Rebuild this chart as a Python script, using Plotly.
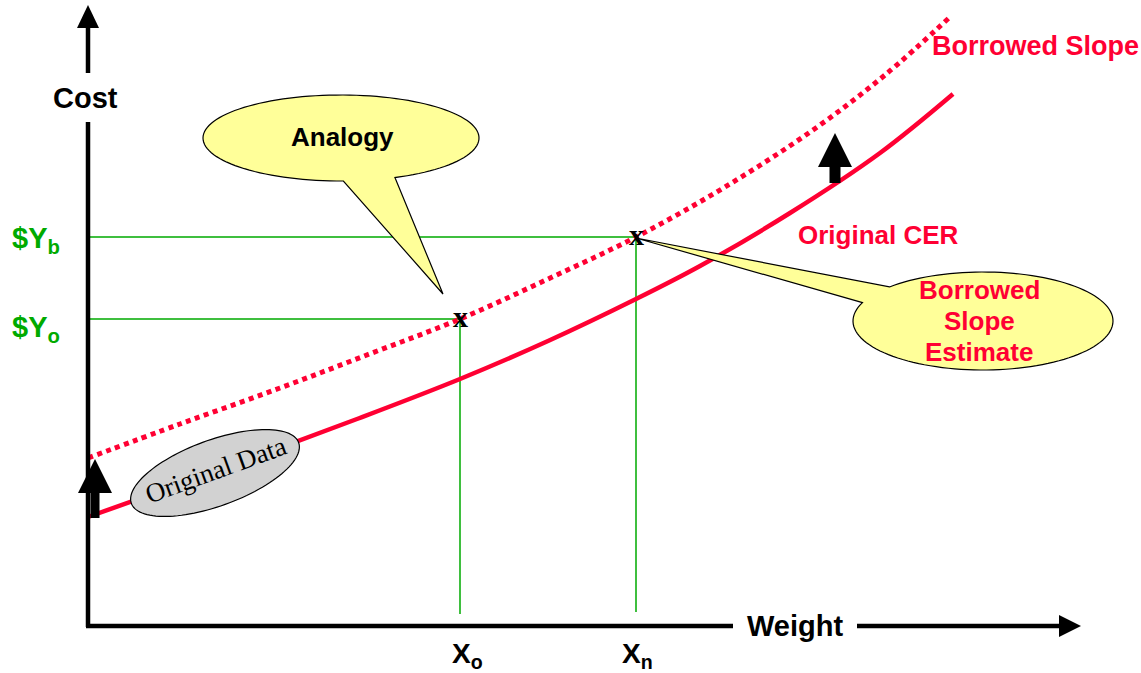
import numpy as np
import plotly.graph_objects as go

# ---------------- data (weight, cost), origin at the axes corner ----------------
cer_weight = [0, 112, 269, 372, 460, 548, 612, 702, 792, 865]
cer_cost = [110, 150, 208, 248, 286, 328, 361, 414, 474, 533]

borrowed_weight = [0, 92, 192, 284, 372, 460, 548, 637, 725, 797, 863]
borrowed_cost = [169, 203, 239, 274, 308, 348, 390, 440, 497, 552, 611]

x_o, y_o = 372, 308      # analogy point
x_n, y_b = 548, 390      # borrowed slope estimate
guide_floor = 13

RED = "#FF0033"
GREEN = "#00AA00"
YELLOW = "#FFFF99"
GREY = "#D2D2D2"
SANS = "Liberation Sans, Arial, sans-serif"
SERIF = "Liberation Serif, Times New Roman, serif"

# page pixel -> chart units (for decoration placement only)
OX, OY = 88, 627


def P(px, py):
    return px - OX, OY - py


def path_from(points):
    s = "M " + " L ".join(f"{x:.2f},{y:.2f}" for x, y in points)
    return s + " Z"


def ellipse_pts(cx, cy, rx, ry, t0, t1, rot=0.0, n=120):
    ts = np.radians(np.linspace(t0, t1, n))
    r = np.radians(rot)
    pts = []
    for t in ts:
        ex, ey = rx * np.cos(t), ry * np.sin(t)
        px = cx + ex * np.cos(r) + ey * np.sin(r)
        py = cy - ex * np.sin(r) + ey * np.cos(r)
        pts.append(P(px, py))
    return pts


def callout(cx, cy, rx, ry, gap_a, gap_b, tip):
    pts = ellipse_pts(cx, cy, rx, ry, gap_b, gap_a + 360)
    pts.append(P(*tip))
    return path_from(pts)


fig = go.Figure()

# green guide lines
fig.add_trace(go.Scatter(x=[0, x_n, x_n], y=[y_b, y_b, guide_floor + 2], mode="lines",
                         line=dict(color=GREEN, width=1.5), hoverinfo="skip"))
fig.add_trace(go.Scatter(x=[0, x_o, x_o], y=[y_o, y_o, guide_floor], mode="lines",
                         line=dict(color=GREEN, width=1.5), hoverinfo="skip"))

# curves
fig.add_trace(go.Scatter(x=cer_weight, y=cer_cost, mode="lines",
                         line=dict(color=RED, width=4.5, shape="spline", smoothing=1.0),
                         hoverinfo="skip"))
fig.add_trace(go.Scatter(x=borrowed_weight, y=borrowed_cost, mode="lines",
                         line=dict(color=RED, width=5, dash="5px,4.5px", shape="spline",
                                   smoothing=1.0),
                         hoverinfo="skip"))

shapes = []
# axes
for a, b in [((88, 627), (88, 122)), ((88, 73), (88, 26)),
             ((86, 626), (733, 626)), ((857, 626), (1062, 626))]:
    x0, y0 = P(*a)
    x1, y1 = P(*b)
    shapes.append(dict(type="line", x0=x0, y0=y0, x1=x1, y1=y1,
                       line=dict(color="black", width=4.5), layer="above"))
shapes.append(dict(type="path", path=path_from([P(88, 5), P(99, 28), P(77, 28)]),
                   fillcolor="black", line=dict(width=0), layer="above"))
shapes.append(dict(type="path", path=path_from([P(1081, 626), P(1059, 615), P(1059, 637)]),
                   fillcolor="black", line=dict(width=0), layer="above"))


def up_arrow(cx, tip, base, bottom, hw, sw):
    return path_from([P(cx, tip), P(cx + hw, base), P(cx + sw, base), P(cx + sw, bottom),
                      P(cx - sw, bottom), P(cx - sw, base), P(cx - hw, base)])


shapes.append(dict(type="path", path=up_arrow(95, 459, 493, 518, 17, 4.5),
                   fillcolor="black", line=dict(width=0), layer="above"))
shapes.append(dict(type="path", path=up_arrow(835, 133, 167, 183, 17, 5.5),
                   fillcolor="black", line=dict(width=0), layer="above"))

# callouts
shapes.append(dict(type="path", path=callout(341, 138, 138, 43, 67, 89, (443, 294)),
                   fillcolor=YELLOW, line=dict(color="black", width=1.2), layer="above"))
shapes.append(dict(type="path", path=callout(983, 321, 130, 49, 202, 224, (636, 238)),
                   fillcolor=YELLOW, line=dict(color="black", width=1.2), layer="above"))
shapes.append(dict(type="path",
                   path=path_from(ellipse_pts(215, 473, 89, 33, 0, 360, rot=20)),
                   fillcolor=GREY, line=dict(color="black", width=1.2), layer="above"))
fig.update_layout(shapes=shapes)

ann = []


def text(px, py, s, size, color="black", family=SANS, weight="bold", angle=0, xanchor="center"):
    x, y = P(px, py)
    ann.append(dict(x=x, y=y, xref="x", yref="y", text=s, showarrow=False,
                    xanchor=xanchor, yanchor="middle", textangle=angle,
                    font=dict(size=size, color=color, family=family, weight=weight)))


text(85, 98, "Cost", 29)
text(795, 626, "Weight", 29)
text(342, 137, "Analogy", 26)
text(1035, 46, "Borrowed Slope", 27, RED)
text(878, 235, "Original CER", 26, RED)
text(979, 290, "Borrowed", 26, RED)
text(979, 321, "Slope", 26, RED)
text(979, 352, "Estimate", 26, RED)
text(10, 240, "$Y<sub>b</sub>", 29, GREEN, xanchor="left")
text(10, 329, "$Y<sub>o</sub>", 29, GREEN, xanchor="left")
text(467, 655, "X<sub>o</sub>", 28)
text(637, 655, "X<sub>n</sub>", 28)
text(460, 316, "x", 30, family=SERIF)
text(636, 234, "x", 30, family=SERIF)
text(216, 470, "Original Data", 27, family=SERIF, weight="normal", angle=-20)
fig.update_layout(annotations=ann)

fig.update_layout(
    width=1141, height=673, margin=dict(l=0, r=0, t=0, b=0),
    paper_bgcolor="white", plot_bgcolor="white", showlegend=False,
    xaxis=dict(range=[-OX, 1141 - OX], visible=False, fixedrange=True),
    yaxis=dict(range=[OY - 673, OY], visible=False, fixedrange=True),
)

fig.write_html("out.html", config={"displayModeBar": False},
               post_script="document.body.style.margin='0px';document.body.style.overflow='hidden';")
